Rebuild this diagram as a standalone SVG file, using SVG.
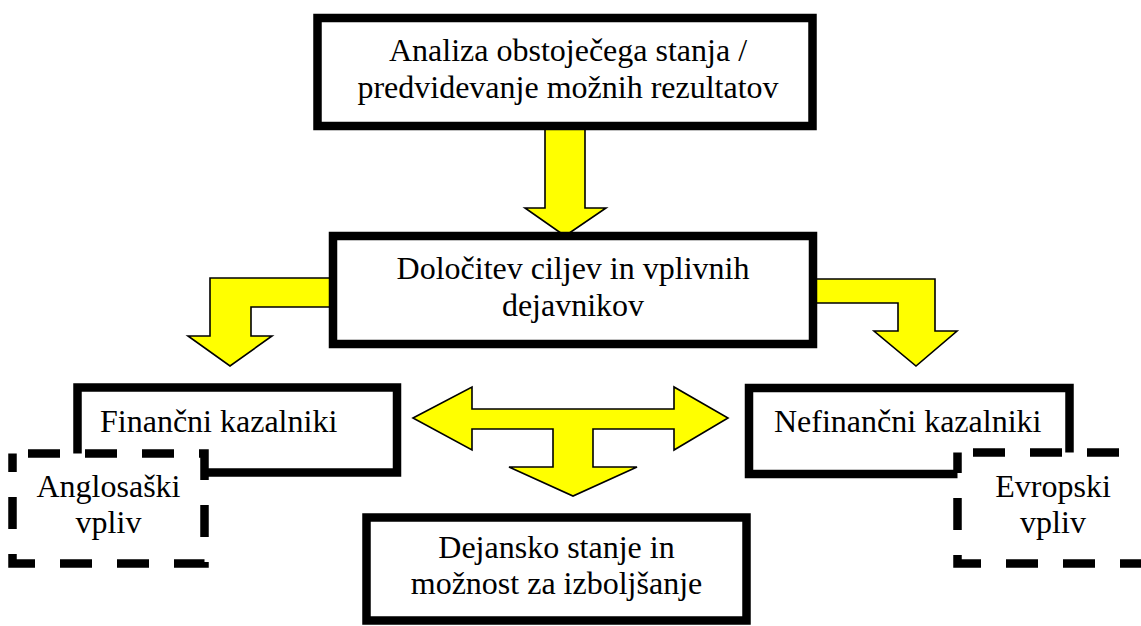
<svg xmlns="http://www.w3.org/2000/svg" width="1141" height="626" viewBox="0 0 1141 626">
<style>
.box{fill:#fff;stroke:#000;stroke-width:8.5}
.dash{fill:#fff;stroke:#000;stroke-width:8.5;stroke-dasharray:32 25}
.arr{fill:#ffff00;stroke:#000;stroke-width:1.6;stroke-linejoin:miter}
text{font-family:"Liberation Serif","Times New Roman",serif;font-size:32px;fill:#000}
.c{text-anchor:middle}
</style>
<rect width="1141" height="626" fill="#fff"/>
<g id="connectors">
<polygon class="arr" points="545,126 585,126 585,208 606,208 565,236 525,208 545,208"/>
<polygon class="arr" points="333,278 333,307 251,307 251,336 272,336 230,366 188,336 210,336 210,278"/>
<polygon class="arr" points="813,279 935,279 935,331 957,331 916,366 874,331 898,331 898,303 813,303"/>
<polygon class="arr" points="413,418 472,387 472,409 674,409 674,387 728,418 674,450 674,429 593,429 593,467 637,467 573,496 509,467 553,467 553,429 472,429 472,450"/>
</g>
<g id="top">
<rect class="box" x="317.5" y="18" width="495" height="108"/>
<text class="c" x="568" y="61">Analiza obstoječega stanja /</text>
<text class="c" x="568" y="98">predvidevanje možnih rezultatov</text>
</g>
<g id="middle">
<rect class="box" x="333" y="236" width="480" height="108"/>
<text class="c" x="573" y="279">Določitev ciljev in vplivnih</text>
<text class="c" x="573" y="316">dejavnikov</text>
</g>
<g id="financni">
<rect class="box" x="77.5" y="387.5" width="319.5" height="85"/>
<text x="100" y="432">Finančni kazalniki</text>
</g>
<g id="anglosaski">
<rect class="dash" x="12.5" y="453.5" width="192" height="110" stroke-dashoffset="41.5"/>
<text class="c" x="108.5" y="497">Anglosaški</text>
<text class="c" x="108.5" y="533">vpliv</text>
</g>
<g id="nefinancni">
<rect class="box" x="749" y="388" width="320.5" height="86"/>
<text x="774" y="432">Nefinančni kazalniki</text>
</g>
<g id="evropski">
<rect class="dash" x="957.5" y="452.5" width="192" height="111" stroke-dashoffset="41.5"/>
<text class="c" x="1053" y="497">Evropski</text>
<text class="c" x="1053" y="533">vpliv</text>
</g>
<g id="dejansko">
<rect class="box" x="366.5" y="517.5" width="380" height="103"/>
<text class="c" x="556.5" y="558">Dejansko stanje in</text>
<text class="c" x="556.5" y="594">možnost za izboljšanje</text>
</g>
</svg>
